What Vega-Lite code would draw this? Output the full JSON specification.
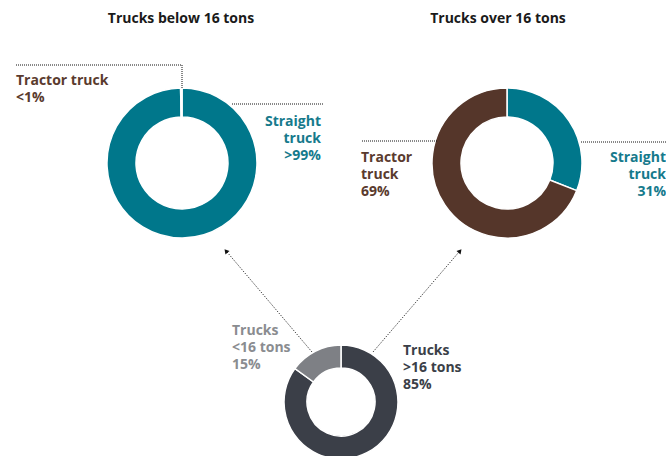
{
  "$schema": "https://vega.github.io/schema/vega-lite/v6.json",
  "width": 666,
  "height": 456,
  "padding": 0,
  "autosize": {"type": "none"},
  "background": "white",
  "config": {"view": {"stroke": null}, "text": {"font": "Open Sans", "fontWeight": "bold", "fontSize": 14, "lineHeight": 17}},
  "datasets": {
    "slices": [
      {"chart": "below", "category": "Straight truck", "value": 99.7, "ord": 1},
      {"chart": "below", "category": "Tractor truck", "value": 0.3, "ord": 2},
      {"chart": "over", "category": "Straight truck", "value": 31, "ord": 1},
      {"chart": "over", "category": "Tractor truck", "value": 69, "ord": 2},
      {"chart": "all", "category": "Trucks >16 tons", "value": 85, "ord": 1},
      {"chart": "all", "category": "Trucks <16 tons", "value": 15, "ord": 2}
    ],
    "texts": [
      {"id": "t1", "text": "Trucks below 16 tons"},
      {"id": "t2", "text": "Trucks over 16 tons"},
      {"id": "l1", "text": "Tractor truck\n<1%"},
      {"id": "l2", "text": "Straight\ntruck\n>99%"},
      {"id": "l3", "text": "Tractor\ntruck\n69%"},
      {"id": "l4", "text": "Straight\ntruck\n31%"},
      {"id": "l5", "text": "Trucks\n<16 tons\n15%"},
      {"id": "l6", "text": "Trucks\n>16 tons\n85%"}
    ],
    "one": [{"id": "x"}]
  },
  "layer": [
    {
      "data": {"name": "slices"},
      "transform": [{"filter": "datum.chart == 'below'"}],
      "mark": {"type": "arc", "outerRadius": 75, "innerRadius": 46, "stroke": "white", "strokeWidth": 1.5},
      "encoding": {
        "x": {"datum": 182, "type": "quantitative", "scale": {"domain": [0, 666], "nice": false, "zero": false}, "axis": null},
        "y": {"datum": 163, "type": "quantitative", "scale": {"domain": [0, 456], "nice": false, "zero": false, "reverse": true}, "axis": null},
        "theta": {"field": "value", "type": "quantitative", "stack": true, "scale": {"domain": [0, 100]}},
        "order": {"field": "ord", "type": "quantitative"},
        "color": {"field": "category", "type": "nominal", "legend": null,
          "scale": {"domain": ["Straight truck", "Tractor truck", "Trucks >16 tons", "Trucks <16 tons"], "range": ["#00778B", "#55362A", "#3B3F48", "#7E8085"]}}
      }
    },
    {
      "data": {"name": "slices"},
      "transform": [{"filter": "datum.chart == 'over'"}],
      "mark": {"type": "arc", "outerRadius": 75, "innerRadius": 46, "stroke": "white", "strokeWidth": 1.5},
      "encoding": {
        "x": {"datum": 507, "type": "quantitative"},
        "y": {"datum": 163, "type": "quantitative"},
        "theta": {"field": "value", "type": "quantitative", "stack": true},
        "order": {"field": "ord", "type": "quantitative"},
        "color": {"field": "category", "type": "nominal", "legend": null}
      }
    },
    {
      "data": {"name": "slices"},
      "transform": [{"filter": "datum.chart == 'all'"}],
      "mark": {"type": "arc", "outerRadius": 57, "innerRadius": 34, "stroke": "white", "strokeWidth": 1.5},
      "encoding": {
        "x": {"datum": 341, "type": "quantitative"},
        "y": {"datum": 402, "type": "quantitative"},
        "theta": {"field": "value", "type": "quantitative", "stack": true},
        "order": {"field": "ord", "type": "quantitative"},
        "color": {"field": "category", "type": "nominal", "legend": null}
      }
    },
    {
      "data": {"name": "one"},
      "mark": {"type": "rule", "strokeDash": [1, 1], "color": "#111", "strokeWidth": 1},
      "encoding": {"x": {"datum": 16, "type": "quantitative"}, "x2": {"datum": 182}, "y": {"datum": 65, "type": "quantitative"}, "y2": {"datum": 65}}
    },
    {
      "data": {"name": "one"},
      "mark": {"type": "rule", "strokeDash": [1, 1], "color": "#111", "strokeWidth": 1},
      "encoding": {"x": {"datum": 182, "type": "quantitative"}, "x2": {"datum": 182}, "y": {"datum": 65, "type": "quantitative"}, "y2": {"datum": 88}}
    },
    {
      "data": {"name": "one"},
      "mark": {"type": "rule", "strokeDash": [1, 1], "color": "#111", "strokeWidth": 1},
      "encoding": {"x": {"datum": 232, "type": "quantitative"}, "x2": {"datum": 323}, "y": {"datum": 104, "type": "quantitative"}, "y2": {"datum": 104}}
    },
    {
      "data": {"name": "one"},
      "mark": {"type": "rule", "strokeDash": [1, 1], "color": "#111", "strokeWidth": 1},
      "encoding": {"x": {"datum": 362, "type": "quantitative"}, "x2": {"datum": 437}, "y": {"datum": 141, "type": "quantitative"}, "y2": {"datum": 141}}
    },
    {
      "data": {"name": "one"},
      "mark": {"type": "rule", "strokeDash": [1, 1], "color": "#111", "strokeWidth": 1},
      "encoding": {"x": {"datum": 581, "type": "quantitative"}, "x2": {"datum": 666}, "y": {"datum": 142, "type": "quantitative"}, "y2": {"datum": 142}}
    },
    {
      "data": {"name": "one"},
      "mark": {"type": "rule", "strokeDash": [1, 1.5], "color": "#111", "strokeWidth": 1},
      "encoding": {"x": {"datum": 312, "type": "quantitative"}, "x2": {"datum": 227}, "y": {"datum": 352, "type": "quantitative"}, "y2": {"datum": 252}}
    },
    {
      "data": {"name": "one"},
      "mark": {"type": "rule", "strokeDash": [1, 1.5], "color": "#111", "strokeWidth": 1},
      "encoding": {"x": {"datum": 373, "type": "quantitative"}, "x2": {"datum": 459}, "y": {"datum": 352, "type": "quantitative"}, "y2": {"datum": 252}}
    },
    {
      "data": {"name": "one"},
      "mark": {"type": "point", "shape": "triangle-up", "filled": true, "color": "#111", "size": 28, "angle": 320, "opacity": 1},
      "encoding": {"x": {"datum": 226, "type": "quantitative"}, "y": {"datum": 251, "type": "quantitative"}}
    },
    {
      "data": {"name": "one"},
      "mark": {"type": "point", "shape": "triangle-up", "filled": true, "color": "#111", "size": 28, "angle": 40, "opacity": 1},
      "encoding": {"x": {"datum": 460, "type": "quantitative"}, "y": {"datum": 251, "type": "quantitative"}}
    },
    {
      "data": {"name": "texts"},
      "transform": [{"filter": "datum.id == 't1'"}],
      "mark": {"type": "text", "align": "center", "baseline": "alphabetic", "color": "#1A1A1A"},
      "encoding": {"x": {"datum": 181, "type": "quantitative"}, "y": {"datum": 23, "type": "quantitative"}, "text": {"field": "text"}}
    },
    {
      "data": {"name": "texts"},
      "transform": [{"filter": "datum.id == 't2'"}],
      "mark": {"type": "text", "align": "center", "baseline": "alphabetic", "color": "#1A1A1A"},
      "encoding": {"x": {"datum": 498, "type": "quantitative"}, "y": {"datum": 23, "type": "quantitative"}, "text": {"field": "text"}}
    },
    {
      "data": {"name": "texts"},
      "transform": [{"filter": "datum.id == 'l1'"}],
      "mark": {"type": "text", "align": "left", "baseline": "alphabetic", "color": "#5A3B2E", "lineBreak": "\n"},
      "encoding": {"x": {"datum": 16, "type": "quantitative"}, "y": {"datum": 85, "type": "quantitative"}, "text": {"field": "text"}}
    },
    {
      "data": {"name": "texts"},
      "transform": [{"filter": "datum.id == 'l2'"}],
      "mark": {"type": "text", "align": "right", "baseline": "alphabetic", "color": "#167A8C", "lineBreak": "\n"},
      "encoding": {"x": {"datum": 321, "type": "quantitative"}, "y": {"datum": 126, "type": "quantitative"}, "text": {"field": "text"}}
    },
    {
      "data": {"name": "texts"},
      "transform": [{"filter": "datum.id == 'l3'"}],
      "mark": {"type": "text", "align": "left", "baseline": "alphabetic", "color": "#5A3B2E", "lineBreak": "\n"},
      "encoding": {"x": {"datum": 361, "type": "quantitative"}, "y": {"datum": 162, "type": "quantitative"}, "text": {"field": "text"}}
    },
    {
      "data": {"name": "texts"},
      "transform": [{"filter": "datum.id == 'l4'"}],
      "mark": {"type": "text", "align": "right", "baseline": "alphabetic", "color": "#167A8C", "lineBreak": "\n"},
      "encoding": {"x": {"datum": 666, "type": "quantitative"}, "y": {"datum": 162, "type": "quantitative"}, "text": {"field": "text"}}
    },
    {
      "data": {"name": "texts"},
      "transform": [{"filter": "datum.id == 'l5'"}],
      "mark": {"type": "text", "align": "left", "baseline": "alphabetic", "color": "#8A8C90", "lineBreak": "\n"},
      "encoding": {"x": {"datum": 232, "type": "quantitative"}, "y": {"datum": 335, "type": "quantitative"}, "text": {"field": "text"}}
    },
    {
      "data": {"name": "texts"},
      "transform": [{"filter": "datum.id == 'l6'"}],
      "mark": {"type": "text", "align": "left", "baseline": "alphabetic", "color": "#3B3F48", "lineBreak": "\n"},
      "encoding": {"x": {"datum": 403, "type": "quantitative"}, "y": {"datum": 355, "type": "quantitative"}, "text": {"field": "text"}}
    }
  ]
}
